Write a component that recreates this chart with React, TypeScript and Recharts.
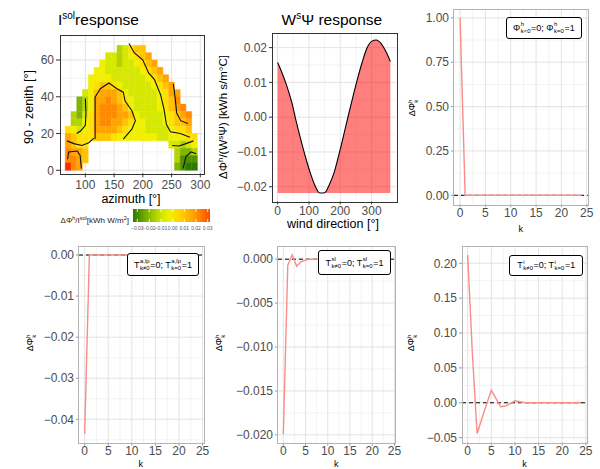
import React from 'react';
import { ComposedChart, XAxis, YAxis, ReferenceLine, ReferenceArea, Line, Area, Scatter } from 'recharts';

const FONT = '"Liberation Sans", Arial, Helvetica, sans-serif';
const TICK_COLOR = '#4D4D4D';

// ---------- heatmap (I^sol response) ----------
const HEAT_AZ = [70, 80, 90, 100, 110, 120, 130, 140, 150, 160, 170, 180, 190, 200, 210, 220, 230, 240, 250, 260, 270, 280, 290];
const HEAT_ELEV = [66, 62, 58, 54, 50, 46, 42, 38, 34, 30, 26, 22, 18, 14, 10, 6, 2];
const _ = null;
const HEAT_ROWS: (number | null)[][] = [
  [_, _, _, _, _, _, _, _, _, -2, -1, 1, 2, 2, _, _, _, _, _, _, _, _, _],
  [_, _, _, _, _, _, _, -1, -1, -2, -1, 0, 1, 2, 3, _, _, _, _, _, _, _, _],
  [_, _, _, _, _, _, 0, -1, -1, -2, -1, -1, 0, 1, 2, 3, _, _, _, _, _, _, _],
  [_, _, _, _, _, 0, 0, -1, -1, -1, -1, -1, -1, 0, 1, 2, 3, _, _, _, _, _, _],
  [_, _, _, _, 0, 0, 0, 0, -1, -1, -1, -1, -1, -1, 0, 1, 2, 3, _, _, _, _, _],
  [_, _, _, _, 0, 1, 2, 2, 1, 0, -1, -1, -1, -1, -1, 0, 1, 2, 3, _, _, _, _],
  [_, _, _, -1, 0, 2, 3, 3, 3, 2, 0, -1, -1, -1, -1, -1, 0, 1, 3, 3, _, _, _],
  [_, _, -3, -2, 0, 3, 3, 4, 3, 2, 1, 0, -1, -1, -1, -1, 0, 1, 2, 4, _, _, _],
  [_, _, -3, -2, 0, 3, 4, 4, 4, 3, 2, 0, -1, -1, -1, -1, 0, 1, 2, 3, 4, _, _],
  [_, -2, -3, -1, 1, 3, 4, 4, 4, 3, 3, 2, 0, -1, -1, -1, -1, 0, 1, 2, 3, 4, _],
  [_, -2, -2, 0, 1, 3, 4, 4, 3, 3, 2, 1, 0, 0, -1, -1, -1, 0, 1, 2, 2, 3, _],
  [1, 0, -1, 0, 1, 3, 3, 3, 3, 2, 1, 0, 0, 0, -1, -1, -1, -1, 0, 1, 1, 2, _],
  [3, 2, 1, 1, 1, 2, 2, 2, 1, 0, 0, 0, 0, 0, 0, 0, -1, -1, 0, 0, 0, 1, 1],
  [3, 2, 1, 1, _, _, _, _, _, _, _, _, _, _, _, _, _, _, -1, -1, -2, -1, 0],
  [4, 3, 3, 2, _, _, _, _, _, _, _, _, _, _, _, _, _, _, _, -2, -3, -3, -2],
  [4, 4, 3, 2, _, _, _, _, _, _, _, _, _, _, _, _, _, _, _, -2, -4, -4, -4],
  [6, 4, 3, _, _, _, _, _, _, _, _, _, _, _, _, _, _, _, _, -3, -4, -5, -5],
];
const AZ_STEP = 10;
const EL_STEP = 4;

const CONTOUR_A = [[176, 69], [185, 64], [200, 60], [210, 53], [220, 49.5], [231, 41], [237, 33], [241, 25], [248, 21], [265, 20], [282, 18]];
const CONTOUR_B = [[253, 47], [256, 40], [259, 31], [266, 27], [278, 25.5]];
const CONTOUR_C = [[117, 17], [117, 28], [117, 39.8], [126, 44.4], [141, 47.5], [155, 44.4], [166, 42.5], [169, 37.8], [181, 32.4], [187, 27], [181, 22.4], [166, 17]];
const CONTOUR_D = [[100, 39], [101, 31], [100, 24.5], [92, 21.5], [85, 20]];
const CONTOUR_E = [[68, 16], [80, 14.5], [94, 13.5], [106, 15], [115, 17.5]];
const CONTOUR_F = [[69, 6], [71, 10], [86, 10.5], [91, 8], [93, 1]];
const CONTOUR_G1 = [[251, 13.5], [263, 13.2], [275, 14.5], [288, 16]];
const CONTOUR_G2 = [[270, 1], [275, 7.5], [284, 10], [293, 9]];
const CONTOURS = [CONTOUR_A, CONTOUR_B, CONTOUR_C, CONTOUR_D, CONTOUR_E, CONTOUR_F, CONTOUR_G1, CONTOUR_G2];

const HEAT_PALETTE: Record<string, string> = {
  '-5': '#2E7A00', '-4': '#4F9200', '-3': '#80B400', '-2': '#B4D400', '-1': '#D6E800',
  '0': '#F0F000', '1': '#FFE000', '2': '#FFC400', '3': '#FFA400', '4': '#FF8A00', '5': '#FF5A00', '6': '#FF2A00',
};
const COLORBAR_LABELS = ['\u22120.03', '\u22120.02', '\u22120.01', '0.00', '0.01', '0.02', '0.03'];

// ---------- wind response ----------
const WIND_DIR = [0, 15, 30, 45, 60, 75, 90, 105, 120, 135, 150, 165, 180, 195, 210, 225, 240, 255, 270, 285, 300, 315, 330, 345, 360];
const WIND_RESP = [0.0157, 0.0125, 0.0088, 0.0043, -0.0015, -0.0068, -0.0118, -0.0162, -0.0198, -0.0218, -0.0217, -0.0194, -0.0160, -0.0110, -0.0055, 0.0002, 0.0057, 0.0110, 0.0158, 0.0198, 0.0218, 0.0222, 0.0212, 0.0190, 0.0160];

// ---------- k responses ----------
const K = [0, 1, 2, 3, 4, 5, 6, 7, 8, 9, 10, 11, 12, 13, 14, 15, 16, 17, 18, 19, 20, 21, 22, 23, 24];
const PHI_RESP = [1, 0, 0, 0, 0, 0, 0, 0, 0, 0, 0, 0, 0, 0, 0, 0, 0, 0, 0, 0, 0, 0, 0, 0, 0];
const TA_RESP = [-0.0435, 0, 0, 0, 0, 0, 0, 0, 0, 0, 0, 0, 0, 0, 0, 0, 0, 0, 0, 0, 0, 0, 0, 0, 0];
const TS_RESP = [-0.0199, -0.0007, 0.0005, -0.0008, -0.0003, -0.0001, 0, 0, 0, 0, 0, 0, 0, 0, 0, 0, 0, 0, 0, 0, 0, 0, 0, 0, 0];
const TI_RESP = [0.212, 0.07, -0.044, -0.023, -0.002, 0.018, 0.006, -0.0057, -0.0047, -0.0012, 0.0029, 0.0014, 0.0004, 0, 0, 0, 0, 0, 0, 0, 0, 0, 0, 0, 0];
const K_TICKS = [0, 5, 10, 15, 20, 25];
const K_MINOR = [2.5, 7.5, 12.5, 17.5, 22.5];

// ---------- layout ----------
type Rect = { L: number; T: number; R: number; B: number };
const YW = 60, MT = 12, MR = 14, XH = 30;
const box = (r: Rect) => ({ left: r.L - YW, top: r.T - MT, width: r.R - r.L + YW + MR, height: r.B - r.T + MT + XH });

const P1: Rect = { L: 60, T: 35, R: 203.3, B: 173.3 };
const P2: Rect = { L: 272.1, T: 33.3, R: 396.1, B: 201.7 };
const P3: Rect = { L: 453.9, T: 9.4, R: 587.7, B: 204.6 };
const P4: Rect = { L: 78.5, T: 246, R: 203, B: 442.7 };
const P5: Rect = { L: 277.7, T: 246.1, R: 395, B: 442.9 };
const P6: Rect = { L: 462.2, T: 246, R: 587, B: 442.4 };

const fmt = (d: number) => (v: number) => {
  const s = Math.abs(v) < 1e-12 ? (0).toFixed(d) : v.toFixed(d);
  return s.replace('-', '\u2212');
};

const tickStyle = { fill: TICK_COLOR, fontSize: 12, fontFamily: FONT };

function gridLines(xMajor: number[], xMinor: number[], yMajor: number[], yMinor: number[]) {
  const out: React.ReactNode[] = [];
  xMinor.forEach((x) => out.push(<ReferenceLine key={'xm' + x} x={x} stroke="#EBEBEB" strokeWidth={0.6} zIndex={-100} ifOverflow="hidden" />));
  yMinor.forEach((y) => out.push(<ReferenceLine key={'ym' + y} y={y} stroke="#EBEBEB" strokeWidth={0.6} zIndex={-100} ifOverflow="hidden" />));
  xMajor.forEach((x) => out.push(<ReferenceLine key={'xM' + x} x={x} stroke="#E0E0E0" strokeWidth={0.9} zIndex={-100} ifOverflow="hidden" />));
  yMajor.forEach((y) => out.push(<ReferenceLine key={'yM' + y} y={y} stroke="#E0E0E0" strokeWidth={0.9} zIndex={-100} ifOverflow="hidden" />));
  return out;
}

function Frame({ r, color }: { r: Rect; color: string }) {
  return (
    <div style={{ position: 'absolute', left: r.L - 0.5, top: r.T - 0.5, width: r.R - r.L, height: r.B - r.T, border: `1px solid ${color}`, pointerEvents: 'none' }} />
  );
}

function Stack({ sup, sub }: { sup: string; sub: string }) {
  return (
    <span style={{ display: 'inline-flex', flexDirection: 'column', fontSize: 6, lineHeight: '6.5px', verticalAlign: 'middle', margin: '0 0.5px', textAlign: 'left' }}>
      <span>{sup}</span>
      <span>{sub}</span>
    </span>
  );
}

function LegendBox({ left, top, width, height, sym, sup, sub1, sub2 }: any) {
  return (
    <div style={{ position: 'absolute', left, top, width, height, boxSizing: 'border-box', border: '1.2px solid #000', borderRadius: 3, background: '#fff', fontFamily: FONT, fontSize: 9, color: '#000', display: 'flex', alignItems: 'center', justifyContent: 'center', whiteSpace: 'nowrap' }}>
      <span>{sym}</span><Stack sup={sup} sub={sub1} /><span>=0; {sym}</span><Stack sup={sup} sub={sub2} /><span>=1</span>
    </div>
  );
}

function KPanel({ r, resp, yDomain, yTicks, yMinor, dec, legend }: any) {
  const b = box(r);
  const data = K.map((k, i) => ({ k, v: resp[i] }));
  return (
    <>
      <div style={{ position: 'absolute', left: b.left, top: b.top }}>
        <ComposedChart width={b.width} height={b.height} data={data} margin={{ top: MT, right: MR, left: 0, bottom: 0 }}>
          <XAxis type="number" dataKey="k" domain={[-1.2, 25.2]} ticks={K_TICKS} allowDataOverflow interval={0} height={XH}
            tick={tickStyle} tickLine={{ stroke: '#9A9A9A' }} axisLine={false} tickSize={3} tickMargin={1} />
          <YAxis type="number" domain={yDomain} ticks={yTicks} allowDataOverflow interval={0} width={YW} tickFormatter={fmt(dec)}
            tick={tickStyle} tickLine={{ stroke: '#9A9A9A' }} axisLine={false} tickSize={3} tickMargin={2} />
          {gridLines(K_TICKS, K_MINOR, yTicks, yMinor)}
          <ReferenceLine y={0} stroke="#000" strokeWidth={1} strokeDasharray="4 3" zIndex={50} />
          <Line type="linear" dataKey="v" stroke="#F98C86" strokeWidth={1.4} dot={false} isAnimationActive={false} zIndex={400} />
        </ComposedChart>
      </div>
      <Frame r={r} color="#B3B3B3" />
      {legend}
    </>
  );
}

export default function App() {
  const b1 = box(P1);
  const b2 = box(P2);
  const cells: { az: number; el: number; v: number }[] = [];
  HEAT_ROWS.forEach((row, i) => row.forEach((v, j) => { if (v !== null) cells.push({ az: HEAT_AZ[j], el: HEAT_ELEV[i], v }); }));
  const windData = WIND_DIR.map((d, i) => ({ d, v: WIND_RESP[i] }));
  const windBase = Math.min(...WIND_RESP);

  return (
    <div style={{ position: 'absolute', left: 0, top: 0, width: 600, height: 469, background: '#fff', overflow: 'hidden', fontFamily: FONT }}>
      {/* Panel 1: heatmap */}
      <div style={{ position: 'absolute', left: b1.left, top: b1.top }}>
        <ComposedChart width={b1.width} height={b1.height} margin={{ top: MT, right: MR, left: 0, bottom: 0 }}>
          <XAxis type="number" dataKey="x" domain={[55.9, 305.2]} ticks={[100, 150, 200, 250, 300]} allowDataOverflow interval={0} height={XH}
            tick={tickStyle} tickLine={{ stroke: '#333' }} axisLine={false} tickSize={4} tickMargin={3} />
          <YAxis type="number" dataKey="y" domain={[-1.64, 73.6]} ticks={[0, 20, 40, 60]} allowDataOverflow interval={0} width={YW}
            tick={tickStyle} tickLine={{ stroke: '#333' }} axisLine={false} tickSize={4} tickMargin={2} />
          {gridLines([100, 150, 200, 250, 300], [75, 125, 175, 225, 275], [0, 20, 40, 60], [10, 30, 50, 70])}
          {cells.map((c, i) => (
            <ReferenceArea key={'c' + i} x1={c.az - AZ_STEP / 2} x2={c.az + AZ_STEP / 2} y1={c.el - EL_STEP / 2} y2={c.el + EL_STEP / 2}
              fill={HEAT_PALETTE[String(c.v)]} fillOpacity={1} stroke={HEAT_PALETTE[String(c.v)]} strokeWidth={0.4} ifOverflow="visible" zIndex={100} />
          ))}
          {CONTOURS.map((pts, i) => (
            <Scatter key={'ct' + i} data={pts.map(([x, y]) => ({ x, y }))} line={{ stroke: '#111', strokeWidth: 1.1 }} lineType="joint"
              shape={() => <g />} isAnimationActive={false} zIndex={600} />
          ))}
        </ComposedChart>
      </div>
      <Frame r={P1} color="#333" />

      {/* Panel 2: wind */}
      <div style={{ position: 'absolute', left: b2.left, top: b2.top }}>
        <ComposedChart width={b2.width} height={b2.height} data={windData} margin={{ top: MT, right: MR, left: 0, bottom: 0 }}>
          <XAxis type="number" dataKey="d" domain={[-18, 378]} ticks={[0, 100, 200, 300]} allowDataOverflow interval={0} height={XH}
            tick={tickStyle} tickLine={{ stroke: '#333' }} axisLine={false} tickSize={3} tickMargin={2} />
          <YAxis type="number" domain={[-0.0242, 0.0242]} ticks={[-0.02, -0.01, 0, 0.01, 0.02]} allowDataOverflow interval={0} width={YW}
            tickFormatter={fmt(2)} tick={tickStyle} tickLine={{ stroke: '#333' }} axisLine={false} tickSize={3} tickMargin={2} />
          {gridLines([0, 100, 200, 300], [50, 150, 250, 350], [-0.02, -0.01, 0, 0.01, 0.02], [-0.015, -0.005, 0.005, 0.015])}
          <Area type="monotone" dataKey="v" baseValue={windBase} fill="#FF0000" fillOpacity={0.5} stroke="none" isAnimationActive={false} />
          <Line type="monotone" dataKey="v" stroke="#000" strokeWidth={1.1} dot={false} isAnimationActive={false} />
        </ComposedChart>
      </div>
      <Frame r={P2} color="#333" />

      {/* k panels */}
      <KPanel r={P3} resp={PHI_RESP} yDomain={[-0.05, 1.05]} yTicks={[0, 0.25, 0.5, 0.75, 1]} yMinor={[0.125, 0.375, 0.625, 0.875]} dec={2}
        legend={<LegendBox left={506} top={16.7} width={75.7} height={22.3} sym="Φ" sup="h" sub1="k<0" sub2="k=0" />} />
      <KPanel r={P4} resp={TA_RESP} yDomain={[-0.0457, 0.0022]} yTicks={[-0.04, -0.03, -0.02, -0.01, 0]} yMinor={[-0.045, -0.035, -0.025, -0.015, -0.005]} dec={2}
        legend={<LegendBox left={126.7} top={253.3} width={72.6} height={22.7} sym="T" sup="a,lp" sub1="k≠0" sub2="k=0" />} />
      <KPanel r={P5} resp={TS_RESP} yDomain={[-0.0209, 0.0015]} yTicks={[-0.02, -0.015, -0.01, -0.005, 0]} yMinor={[-0.0175, -0.0125, -0.0075, -0.0025]} dec={3}
        legend={<LegendBox left={318.3} top={250} width={72.4} height={25} sym="T" sup="sl" sub1="k≠0" sub2="k=0" />} />
      <KPanel r={P6} resp={TI_RESP} yDomain={[-0.0568, 0.2248]} yTicks={[-0.05, 0, 0.05, 0.1, 0.15, 0.2]} yMinor={[-0.025, 0.025, 0.075, 0.125, 0.175]} dec={2}
        legend={<LegendBox left={509.3} top={255} width={74} height={20.7} sym="T" sup="i" sub1="k≠0" sub2="k=0" />} />

      {/* colorbar */}
      <div style={{ position: 'absolute', left: 133, top: 209, width: 77, height: 13, background: 'linear-gradient(to right, #2E7A00 0%, #8CC000 22%, #D6E800 38%, #F0F000 48%, #FFD000 62%, #FFA400 78%, #FF4A00 100%)' }} />

      {/* texts */}
      <svg width={600} height={469} style={{ position: 'absolute', left: 0, top: 0, pointerEvents: 'none' }} fontFamily={FONT}>
        <text x={58} y={25} fontSize={15.5} fill="#000">I<tspan dy={-6} fontSize={10}>sol</tspan><tspan dy={6}>response</tspan></text>
        <text x={281.5} y={25} fontSize={15.5} fill="#000">W<tspan dy={-6} fontSize={10}>s</tspan><tspan dy={6}>Ψ response</tspan></text>

        <text x={131} y={203} fontSize={12.5} textAnchor="middle" fill="#000">azimuth [°]</text>
        <text transform="translate(33,107) rotate(-90)" fontSize={12.5} textAnchor="middle" fill="#000">90 - zenith [°]</text>
        <text x={333} y={228} fontSize={12.5} textAnchor="middle" fill="#000">wind direction [°]</text>
        <text transform="translate(227,117) rotate(-90)" fontSize={11.5} textAnchor="middle" fill="#000">ΔΦ<tspan dy={-4} fontSize={8}>h</tspan><tspan dy={4}>/(W</tspan><tspan dy={-4} fontSize={8}>s</tspan><tspan dy={4}>Ψ) [kWh s/m°C]</tspan></text>

        <text x={129} y={223} fontSize={8} textAnchor="end" fill="#222">ΔΦ<tspan dy={-3} fontSize={5.5}>h</tspan><tspan dy={3}>/I</tspan><tspan dy={-3} fontSize={5.5}>sol</tspan><tspan dy={3}>[kWh W/m</tspan><tspan dy={-3} fontSize={5.5}>2</tspan><tspan dy={3}>]</tspan></text>
        {[137.3, 149.3, 161, 172.7, 184.3, 196, 207.7].map((x, i) => (
          <g key={'cb' + i}>
            <line x1={x} x2={x} y1={209} y2={212} stroke="#fff" strokeWidth={0.8} />
            <line x1={x} x2={x} y1={219} y2={222} stroke="#fff" strokeWidth={0.8} />
            <text x={x} y={230} fontSize={5} textAnchor="middle" fill="#555">{COLORBAR_LABELS[i]}</text>
          </g>
        ))}

        <text x={520.8} y={232} fontSize={9} textAnchor="middle" fill="#000">k</text>
        <text x={140.7} y={467} fontSize={9} textAnchor="middle" fill="#000">k</text>
        <text x={336.3} y={467} fontSize={9} textAnchor="middle" fill="#000">k</text>
        <text x={524.6} y={467} fontSize={9} textAnchor="middle" fill="#000">k</text>

        {[[415, 108], [33, 343], [222, 343], [414, 343]].map(([x, y], i) => (
          <text key={'yl' + i} transform={`translate(${x},${y}) rotate(-90)`} fontSize={9} textAnchor="middle" fill="#000">ΔΦ<tspan dy={-3.5} fontSize={6}>h</tspan><tspan dx={-3} dy={6} fontSize={6}>k</tspan></text>
        ))}
      </svg>
    </div>
  );
}
